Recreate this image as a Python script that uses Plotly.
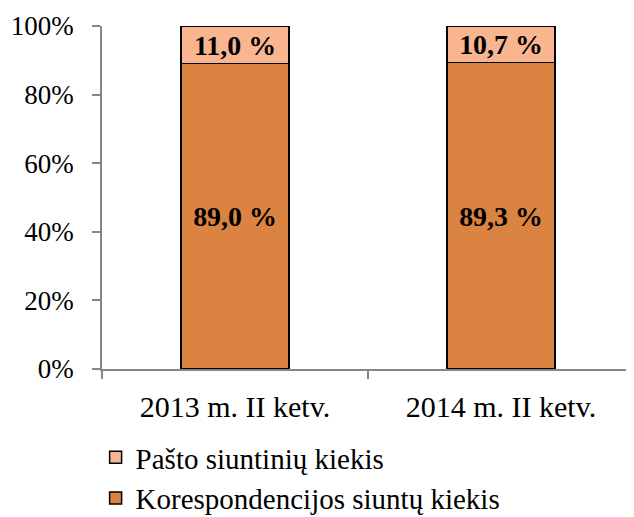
import plotly.graph_objects as go

# ── data ────────────────────────────────────────────────────────────────
categories = ["2013 m. II ketv.", "2014 m. II ketv."]
korespondencija = [89.0, 89.3]
pastas = [11.0, 10.7]

series_names = ["Korespondencijos siuntų kiekis", "Pašto siuntinių kiekis"]
y_ticks = [0, 20, 40, 60, 80, 100]
y_tick_text = [f"{v}%" for v in y_ticks]

FONT = "Liberation Serif"
DARK = "#DB8340"
LIGHT = "#F9B590"
AXIS = "#868686"

# page body has an 8px margin, so the figure is shrunk and margins shifted
fig = go.Figure()

fig.add_trace(go.Bar(
    x=categories, y=korespondencija,
    name=series_names[0],
    marker=dict(color=DARK, line=dict(color="black", width=1.5)),
    width=0.405,
    texttemplate="%{y:.1f} %",
    textposition="inside",
    insidetextanchor="middle",
    textfont=dict(family=FONT, size=30, color="black", weight="bold"),
    legendgroup="a", legendrank=2,
))

fig.add_trace(go.Bar(
    x=categories, y=pastas,
    name=series_names[1],
    marker=dict(color=LIGHT, line=dict(color="black", width=1.5)),
    width=0.405,
    texttemplate="%{y:.1f} %",
    textposition="inside",
    insidetextanchor="middle",
    textfont=dict(family=FONT, size=30, color="black", weight="bold"),
    legendgroup="b", legendrank=1,
))

fig.update_layout(
    barmode="stack",
    separators=", ",
    width=626, height=509,
    margin=dict(l=94, r=0, t=18, b=148),
    paper_bgcolor="white",
    plot_bgcolor="white",
    font=dict(family=FONT, size=27, color="black"),
    uniformtext=dict(minsize=10, mode="show"),
    xaxis=dict(
        range=[-0.5, 1.5],
        tickson="boundaries",
        ticks="outside", ticklen=8, tickcolor=AXIS, tickwidth=1.5,
        showline=True, linecolor=AXIS, linewidth=1.5,
        showgrid=False,
        ticklabelstandoff=10,
        tickfont=dict(family=FONT, size=30),
    ),
    yaxis=dict(
        range=[0, 100],
        tickvals=y_ticks,
        ticktext=y_tick_text,
        ticks="outside", ticklen=8, tickcolor=AXIS, tickwidth=1.5,
        showline=True, linecolor=AXIS, linewidth=1.5,
        showgrid=False, zeroline=False,
        ticklabelstandoff=13,
        tickfont=dict(family=FONT, size=27),
    ),
    legend=dict(
        orientation="v",
        xref="paper", x=-0.012, xanchor="left",
        yref="container", y=0.167, yanchor="top",
        traceorder="grouped",
        tracegroupgap=0,
        font=dict(family=FONT, size=29),
        itemwidth=30,
    ),
)

fig.write_html("out.html")
